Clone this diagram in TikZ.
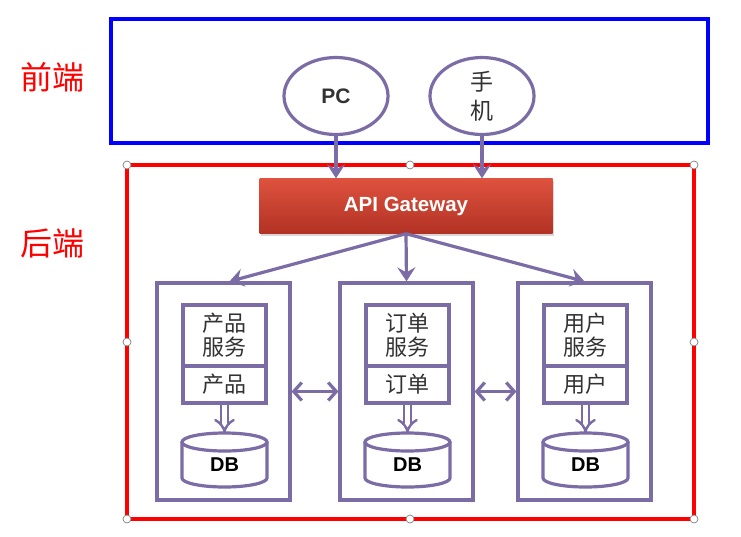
\documentclass[tikz,border=0pt]{standalone}
\usepackage{fontspec}
\setmainfont{Liberation Sans}
\newfontfamily\cjk{Noto Sans CJK SC}
\usetikzlibrary{shapes.geometric,arrows.meta,shadows}
\definecolor{lav}{RGB}{124,108,166}
\definecolor{gwtop}{RGB}{222,82,62}
\definecolor{gwbot}{RGB}{178,50,36}
\definecolor{txt}{RGB}{50,50,50}
\tikzset{
  client/.style={ellipse,draw=lav,line width=3.2pt,minimum width=104pt,minimum height=77pt,inner sep=0pt,text=txt},
  outerbox/.style={draw=lav,line width=3.2pt,minimum width=133pt,minimum height=217pt,inner sep=0pt},
  svcbox/.style={draw=lav,line width=3.2pt,minimum width=83pt,inner sep=0pt,text=txt,font=\cjk\fontsize{22}{24}\selectfont,align=center},
  dbtext/.style={inner sep=0pt,text=black,font=\bfseries\fontsize{20}{21}\selectfont},
  dbline/.style={draw=lav,line width=3.2pt},
  arr/.style={draw=lav,line width=3.2pt,-{Stealth[length=14pt,width=18pt,inset=5pt]}},
  darr/.style={draw=lav,line width=3.2pt,{Straight Barb[length=8pt,width=18pt]}-{Straight Barb[length=8pt,width=18pt]}},
  dbarr/.style={draw=lav,line width=2.4pt,double=white,double distance=4.5pt,-{Implies[length=9pt]}},
  frame/.style={line width=3.8pt},
  handle/.style={circle,draw=gray,fill=white,line width=0.7pt,minimum size=8pt,inner sep=0pt},
  side/.style={text=red,font=\cjk\fontsize{32}{34}\selectfont}
}
\begin{document}
\begin{tikzpicture}[x=1pt,y=-1pt]
\useasboundingbox[fill=white] (0,0) rectangle (741,536);
% side labels
\node[side] (fe) at (52,77) {前端};
\node[side] (be) at (52,243) {后端};
% frames
\draw[frame,draw=blue] (111,19) rectangle (708,143);
\draw[frame,draw=red] (127,165) rectangle (694,519);
% clients
\node[client,font=\bfseries\fontsize{21}{22}\selectfont] (pc) at (336,96) {PC};
\node[client,font=\cjk\fontsize{23}{29}\selectfont,align=center] (ph) at (482,96) {手\\机};
% gateway
\node[draw=none,minimum width=293pt,minimum height=55pt,top color=gwtop,bottom color=gwbot,drop shadow={shadow xshift=1pt,shadow yshift=-2pt,opacity=0.3},text=white,font=\bfseries\fontsize{20.5}{22}\selectfont] (gw) at (406,206) {API Gateway};
\draw[arr] (pc.south) -- (pc.south |- gw.north);
\draw[arr] (ph.south) -- (ph.south |- gw.north);
% services
\foreach \i/\x/\s/\t in {1/224.5/产品/产品, 2/407.5/订单/订单, 3/585.5/用户/用户}{
  \node[outerbox] (b\i) at (\x-1,391.5) {};
  \node[svcbox,minimum height=61pt] (s\i) at (\x,335.5) {\s\\服务};
  \node[svcbox,minimum height=37pt] (d\i) at (\x,384.5) {\t};
  \draw[dbline] (\x-42.5,442) -- (\x-42.5,478) arc[start angle=180,end angle=0,x radius=42.5,y radius=9] -- (\x+42.5,442);
  \draw[dbline] (\x,442) ellipse[x radius=42.5,y radius=9];
  \coordinate (dbt\i) at (\x,433);
  \node[dbtext] (db\i) at (\x,465) {DB};
  \draw[dbarr] (d\i.south) -- (dbt\i);
}
\draw[arr] (gw.south) -- ([xshift=6pt]b1.north);
\draw[arr] (gw.south) -- (b2.north);
\draw[arr] (gw.south) -- (b3.north);
\draw[darr] (b1.east) -- (b2.west);
\draw[darr] (b2.east) -- (b3.west);
% handles
\foreach \p/\q in {127/165,410/165,694/165,127/342,694/342,127/519,410/519,694/519}{
  \node[handle] at (\p,\q) {};
}
\end{tikzpicture}
\end{document}
